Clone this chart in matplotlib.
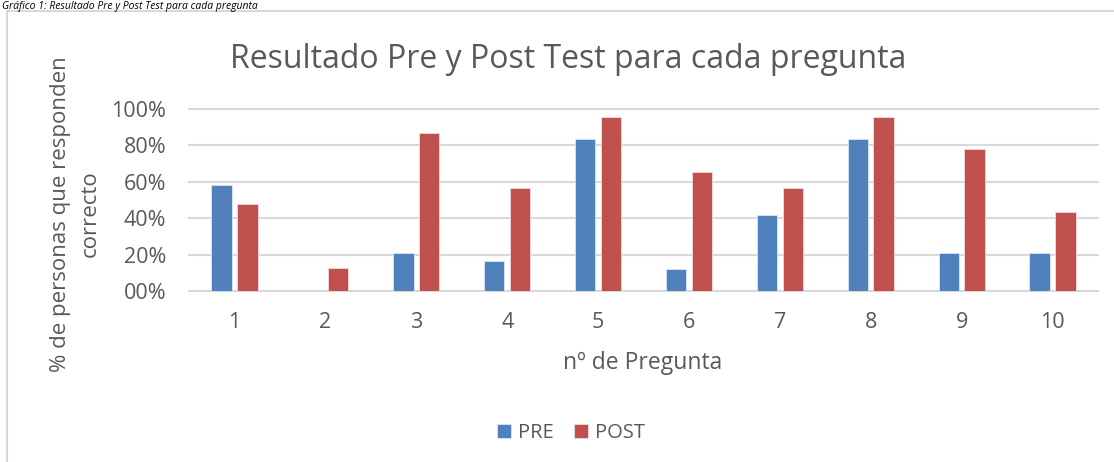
import matplotlib
matplotlib.use("Agg")
import matplotlib.pyplot as plt
from matplotlib.patches import Rectangle
import numpy as np

categories = ["1", "2", "3", "4", "5", "6", "7", "8", "9", "10"]
pre = [0.583, 0.0, 0.208, 0.167, 0.833, 0.125, 0.417, 0.833, 0.208, 0.208]
post = [0.478, 0.130, 0.870, 0.565, 0.957, 0.652, 0.565, 0.957, 0.783, 0.435]
yticks = [0, 0.2, 0.4, 0.6, 0.8, 1.0]
ytick_labels = ["00%", "20%", "40%", "60%", "80%", "100%"]

W, H = 1114, 462
fig = plt.figure(figsize=(W / 100, H / 100), dpi=100)
plt.rcParams['font.family'] = ['Open Sans', 'DejaVu Sans']
txt = "#595959"

# chart border
fig.patches.append(Rectangle((7 / W, -0.01), (W + 10) / W, (H - 11) / H + 0.01,
                             transform=fig.transFigure, fill=False,
                             edgecolor="#d9d9d9", linewidth=1.5))
# caption above the chart
fig.text(2 / W, 1 - 0.5 / H, "Gráfico 1: Resultado Pre y Post Test para cada pregunta",
         fontsize=7.5, style="italic", color="black", ha="left", va="top")

x0, x1 = 189, 1098
y0, y1 = 291.3, 109
ax = fig.add_axes([x0 / W, 1 - y0 / H, (x1 - x0) / W, (y0 - y1) / H])
x = np.arange(len(categories))
off = 0.142
w = 0.225
ax.bar(x - off, pre, w, color="#4f81bd", edgecolor="#dce6f2", linewidth=0.6, label="PRE", zorder=3)
ax.bar(x + off, post, w, color="#c0504d", edgecolor="#f2dcdb", linewidth=0.6, label="POST", zorder=3)
ax.set_xlim(-0.5, len(categories) - 0.5)
ax.set_ylim(0, 1.0)
ax.set_yticks(yticks)
ax.set_yticklabels(ytick_labels)
ax.set_xticks(x)
ax.set_xticklabels(categories)
ax.tick_params(axis="both", length=0, labelsize=15.5, colors=txt)
ax.tick_params(axis="y", pad=16.5)
ax.tick_params(axis="x", pad=15)
for s in ax.spines.values():
    s.set_visible(False)
ax.yaxis.grid(True, color="#d9d9d9", linewidth=1.5, zorder=0)
ax.set_axisbelow(True)
for line in ax.get_ygridlines():
    line.set_clip_on(False)

fig.text(568 / W, 1 - 59 / H, "Resultado Pre y Post Test para cada pregunta",
         fontsize=23, color=txt, ha="center", va="center")
fig.text(75 / W, 1 - 214 / H, "% de personas que responden\ncorrecto",
         fontsize=16, color=txt, ha="center", va="center", rotation=90,
         multialignment="center", linespacing=1.55)
fig.text(643 / W, 1 - 363 / H, "nº de Pregunta", fontsize=16.5, color=txt,
         ha="center", va="center")
leg = fig.legend(loc="center", bbox_to_anchor=(571 / W, 1 - 433 / H), ncol=2,
                 frameon=False, fontsize=14.5, handlelength=0.7, handleheight=0.7,
                 handletextpad=0.35, columnspacing=1.0)
for t in leg.get_texts():
    t.set_color(txt)

fig.savefig("out.png", dpi=100)
